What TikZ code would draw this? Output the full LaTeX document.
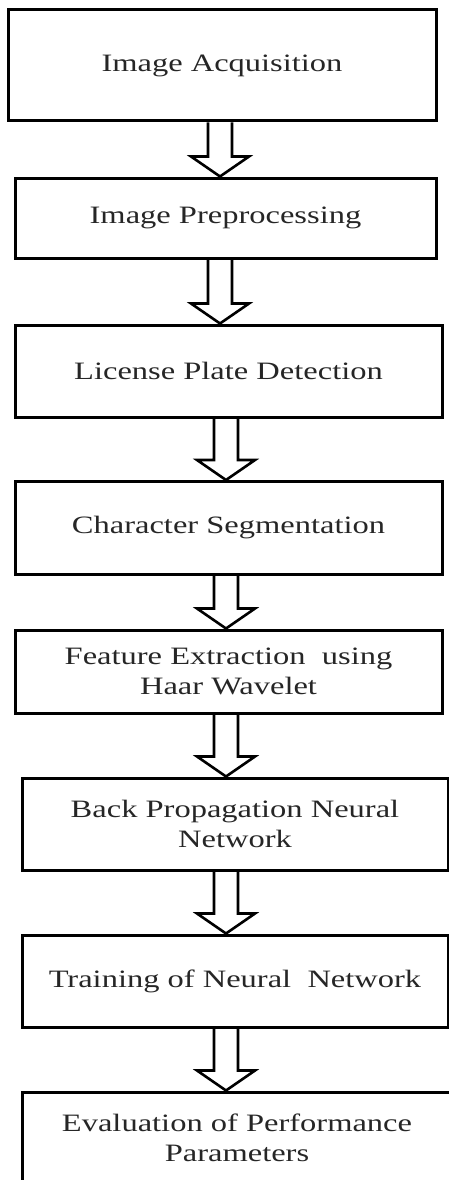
\documentclass[tikz,border=0pt]{standalone}
\usepackage{fontspec}
\setmainfont{Liberation Serif}[FakeStretch=1.3]
\usetikzlibrary{calc}

% hollow block arrow: from node, to node, x of its axis
\newcommand{\hollowarrow}[3]{%
  \coordinate (ax) at (#3,0);
  \draw[arrowline] ($(ax |- #1.south)+(-12,0)$) -- ($(ax |- #2.north)+(-12,-20)$)
    -- ($(ax |- #2.north)+(-29,-20)$) -- (ax |- #2.north)
    -- ($(ax |- #2.north)+(29,-20)$) -- ($(ax |- #2.north)+(12,-20)$)
    -- ($(ax |- #1.south)+(12,0)$);}

\begin{document}
\begin{tikzpicture}[x=1pt,y=-1pt]
            \tikzset{
                stage/.style={rectangle,draw,line width=3pt,minimum width=427pt,
                    inner sep=0pt,align=center,text=black!85,
                    font=\fontsize{25}{30}\selectfont},
                arrowline/.style={line width=2.6pt,line join=miter}
            }
            \useasboundingbox (0,0) rectangle (449,1180);
            % stages
            \node[stage,minimum width=428pt,minimum height=111pt] (acq) at (222,65.5) {Image Acquisition};
            \node[stage,minimum width=421pt,minimum height=80pt] (pre) at (225.5,218) {Image Preprocessing};
            \node[stage,minimum height=92pt] (lpd) at (228.5,371) {License Plate Detection};
            \node[stage,minimum height=93pt] (seg) at (228.5,528) {Character Segmentation};
            \node[stage,minimum height=83pt] (feat) at (228.5,671.5) {Feature Extraction\ \ using\\Haar Wavelet};
            \node[stage,minimum width=426pt,minimum height=92pt] (bpnn) at (235,824) {Back Propagation Neural\\Network};
            \node[stage,minimum width=426pt,minimum height=92pt] (train) at (235,981) {Training of Neural\ \ Network};
            \node[stage,minimum width=430pt,minimum height=92pt] (eval) at (237,1138) {Evaluation of Performance\\Parameters};

            % arrows
            \hollowarrow{acq}{pre}{220}
            \hollowarrow{pre}{lpd}{220}
            \hollowarrow{lpd}{seg}{226}
            \hollowarrow{seg}{feat}{226}
            \hollowarrow{feat}{bpnn}{226}
            \hollowarrow{bpnn}{train}{226}
            \hollowarrow{train}{eval}{226}
\end{tikzpicture}
\end{document}
